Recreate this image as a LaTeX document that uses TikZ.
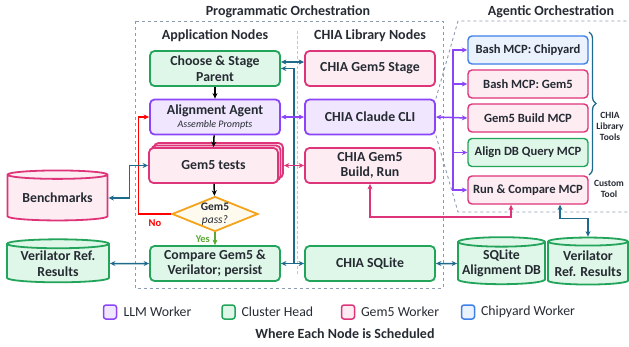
\documentclass[tikz,border=0pt]{standalone}
\usepackage{fontspec}
\setmainfont{Carlito}
\usetikzlibrary{arrows.meta,shapes.geometric,shadows,decorations.pathreplacing}

\definecolor{grnline}{HTML}{22A45A}
\definecolor{grnfill}{HTML}{DFF7E8}
\definecolor{purline}{HTML}{8B44F7}
\definecolor{purfill}{HTML}{F0E6FD}
\definecolor{pnkline}{HTML}{DE3479}
\definecolor{pnkfill}{HTML}{FDEDF3}
\definecolor{bluline}{HTML}{3F7FE8}
\definecolor{blufill}{HTML}{EAF2FD}
\definecolor{orgline}{HTML}{F5A31A}
\definecolor{orgfill}{HTML}{FFFAEE}
\definecolor{linkblue}{HTML}{1D6A8C}
\definecolor{yesgreen}{HTML}{5AAA32}
\definecolor{dashgray}{HTML}{8C9BB0}
\definecolor{inkgray}{HTML}{262B33}

\begin{document}
\begin{tikzpicture}[x=1pt,y=-1pt,
  grn/.style={draw=grnline,fill=grnfill},
  pur/.style={draw=purline,fill=purfill},
  pnk/.style={draw=pnkline,fill=pnkfill},
  blu/.style={draw=bluline,fill=blufill},
  box/.style={rounded corners=4.5pt,line width=1.8pt,minimum width=130pt,minimum height=35pt,
    inner sep=1pt,align=center,text=inkgray,font=\fontsize{13.8}{15.5}\selectfont\bfseries},
  tool/.style={rounded corners=4pt,line width=1.4pt,minimum width=120pt,minimum height=28pt,
    inner sep=1pt,align=center,text=inkgray,font=\fontsize{12.6}{14}\selectfont\bfseries},
  db/.style={cylinder,shape border rotate=90,aspect=0.12,line width=1.8pt,align=center,
    inner sep=0pt,text=inkgray,font=\fontsize{13.8}{15.5}\selectfont\bfseries},
  decision/.style={diamond,draw=orgline,fill=orgfill,line width=1.8pt,aspect=2.45,inner sep=0pt,
    minimum width=86pt,minimum height=35pt,align=center,text=inkgray,
    font=\fontsize{11.5}{12.5}\selectfont\bfseries},
  head/.style={text=inkgray,font=\fontsize{14}{16}\selectfont\bfseries},
  note/.style={align=center,text=inkgray,font=\fontsize{9.5}{11}\selectfont\bfseries},
  key/.style={rounded corners=2.5pt,line width=1.5pt,minimum width=13pt,minimum height=14pt,inner sep=0pt},
  legtext/.style={anchor=west,text=inkgray,font=\fontsize{13.8}{15}\selectfont},
  frame/.style={draw=dashgray,dashed,line width=0.9pt},
  arr/.style={line width=1.5pt,>={Stealth[length=5.5pt,width=5pt]}},
  lnk/.style={arr,draw=linkblue},
  purarr/.style={arr,draw=purline},
  pnkarr/.style={arr,draw=pnkline},
  blk/.style={arr,draw=black,->}
]
\useasboundingbox (0,0) rectangle (629,346);

% frames
\draw[frame] (135,21) rectangle (443,288);
\draw[draw=gray!45,densely dashed,line width=0.8pt] (297,31) -- (297,276);

\node[head] (ptitle) at (288,12) {Programmatic Orchestration};
\node[head] (atitle) at (551,12) {Agentic Orchestration};
\node[head] (apphead) at (215,36) {Application Nodes};
\node[head] (libhead) at (370,36) {CHIA Library Nodes};

% application nodes
\node[box,grn] (choose) at (215,68.5) {Choose \& Stage\\Parent};
\node[box,pur] (agent) at (215,117) {Alignment Agent\\[-3pt]{\fontsize{10}{11}\selectfont\mdseries\itshape Assemble Prompts}};
\node[box,pnk,minimum width=129pt,double copy shadow={shadow xshift=2.5pt,shadow yshift=2.5pt}] (tests) at (213.5,165.5) {Gem5 tests};
\node[decision] (pass) at (215,214) {Gem5\\{\mdseries\itshape pass?}};
\node[box,grn] (compare) at (215,263.5) {Compare Gem5 \&\\Verilator; persist};

% chia library nodes
\node[box,pnk] (stage) at (370,68.5) {CHIA Gem5 Stage};
\node[box,pur] (cli) at (370,117) {CHIA Claude CLI};
\node[box,pnk] (build) at (370,165.5) {CHIA Gem5\\Build, Run};
\node[box,grn] (sqlite) at (370,263.5) {CHIA SQLite};

% agentic tools
\node[tool,blu] (chipyard) at (528,50) {Bash MCP: Chipyard};
\node[tool,pnk] (bashgem5) at (528,84) {Bash MCP: Gem5};
\node[tool,pnk] (buildmcp) at (528,118) {Gem5 Build MCP};
\node[tool,grn] (dbquery) at (528,152.5) {Align DB Query MCP};
\node[tool,pnk] (runcmp) at (528,190) {Run \& Compare MCP};

\draw[frame] (cli.north east) -- (458,21) -- (629,21);
\draw[frame] (cli.south east) -- (458,212) -- (629,212);

% databases
\node[db,pnk,minimum width=100pt,minimum height=50pt] (bench) at (57.5,198) {Benchmarks};
\node[db,grn,minimum width=102pt,minimum height=43pt] (verleft) at (58,263.5) {Verilator Ref.\\Results};
\node[db,grn,minimum width=87pt,minimum height=47pt] (aligndb) at (501.5,263.5) {SQLite\\Alignment DB};
\node[db,grn,minimum width=80pt,minimum height=47pt] (verright) at (588,263.5) {Verilator\\Ref. Results};

% control flow
\draw[blk] (choose) -- (agent);
\draw[blk] (agent) -- (tests.north);
\draw[blk] (tests) -- (pass);
\draw[arr,draw=yesgreen,->] (pass) -- (compare)
  node[midway,left=1pt,text=yesgreen,font=\fontsize{10.5}{11}\selectfont\bfseries] {Yes};
\draw[arr,draw=red,->,line width=1.1pt] (pass.west) -- ++(-33,0) |- (agent.west);
\node[text=red,font=\fontsize{10.5}{11}\selectfont\bfseries] (nolabel) at (155,223) {No};

% data links
\draw[lnk,<->] ([yshift=6.5pt]choose.east) -- ([yshift=6.5pt]stage.west);
\draw[lnk,<->] (compare.east) -- (sqlite.west);
\coordinate (join) at (294,263.5);
\draw[lnk,->] (join) |- (choose.east);
\draw[lnk,<->] (bench.east) -- ++(21,0) |- (tests.west);
\draw[lnk,<->] (verleft.east) -- (compare.west);
\draw[lnk,<->] (sqlite.east) -- (aligndb.west);
\draw[lnk,<->] ([xshift=32pt]runcmp.south) -- ++(0,14) -| (verright.north);
\draw[pnkarr,<->] (build.south) -- (370,217) -| ([xshift=-17pt]runcmp.south);
\draw[pnkarr,<->] ([xshift=5pt]tests.east) -- (build.west);

% claude cli to tools
\draw[purarr,<->] (agent.east) -- (cli.west);
\draw[purarr,<->] (cli.east) -- (buildmcp.west);
\coordinate (fork) at (453,117);
\foreach \t in {chipyard,bashgem5,dbquery,runcmp}
  \draw[purarr,->] (fork) |- (\t.west);

\draw[linkblue,line width=1.3pt,decorate,decoration={brace,amplitude=7pt}] (589,32) -- (589,175);
\node[note] (libtools) at (610,126) {CHIA\\Library\\Tools};
\node[note] (custom) at (609,189) {Custom\\Tool};

% legend
\node[key,pur] (kllm) at (110,312) {};
\node[legtext] (tllm) at (120,312) {LLM Worker};
\node[key,grn] (khead) at (228.5,312) {};
\node[legtext] (thead) at (238,312) {Cluster Head};
\node[key,pnk] (kgem) at (348,312) {};
\node[legtext] (tgem) at (357.5,312) {Gem5 Worker};
\node[key,blu] (kchip) at (468,312) {};
\node[legtext] (tchip) at (477.5,312) {Chipyard Worker};
\node[text=inkgray,font=\fontsize{14}{16}\selectfont\bfseries] (capt) at (345,334) {Where Each Node is Scheduled};
\end{tikzpicture}
\end{document}
